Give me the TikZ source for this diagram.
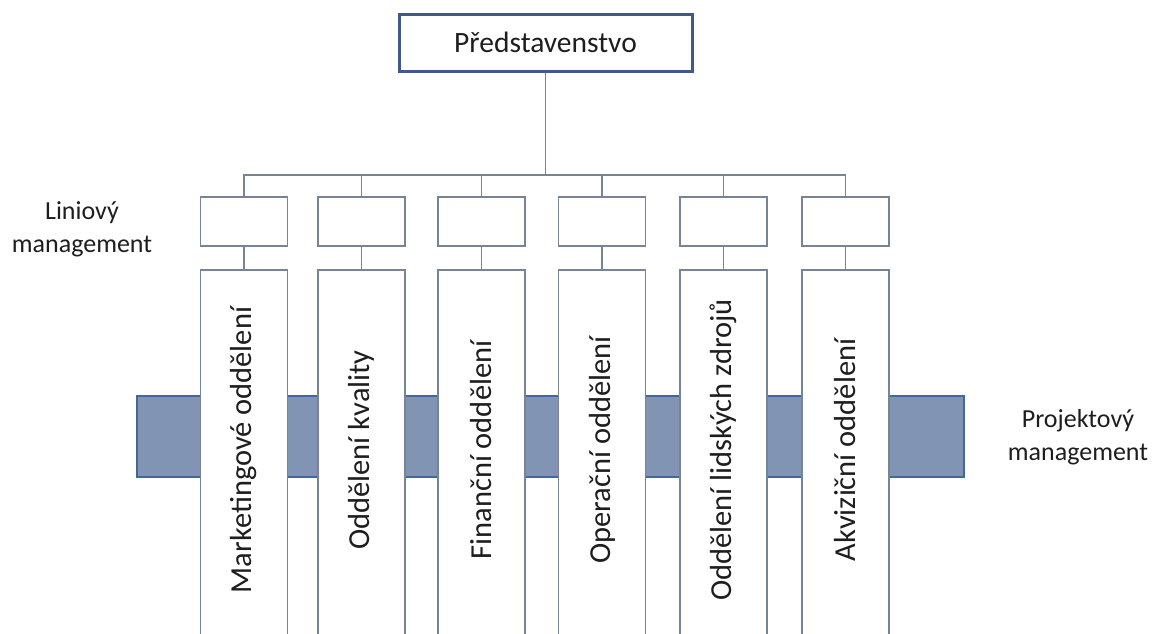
\documentclass[tikz,border=0pt]{standalone}
\usepackage{fontspec}
\setmainfont{Carlito}
\definecolor{boxline}{RGB}{118,132,150}
\definecolor{topline}{RGB}{65,88,140}
\definecolor{barfill}{RGB}{130,148,180}
\definecolor{barline}{RGB}{70,102,152}
\definecolor{txt}{RGB}{30,30,30}
\tikzset{
  x=1pt, y=-1pt,
  topbox/.style={draw=topline, line width=3pt, fill=white, minimum width=293pt, minimum height=57pt, inner sep=0pt, font=\fontsize{29.5}{32}\selectfont, text=txt},
  linebox/.style={draw=boxline, line width=1.6pt, fill=white, minimum width=87pt, minimum height=49pt, inner sep=0pt},
  colbox/.style={draw=boxline, line width=1.6pt, fill=white, minimum width=87pt, minimum height=380pt, inner sep=0pt},
  coltext/.style={rotate=90, font=\fontsize{30.5}{33}\selectfont, text=txt, inner sep=0pt},
  sidetext/.style={align=center, font=\fontsize{26}{33}\selectfont, text=txt, inner sep=0pt},
  wire/.style={draw=boxline, line width=1.6pt},
  bar/.style={draw=barline, line width=2.5pt, fill=barfill}
}
\begin{document}
\begin{tikzpicture}
\useasboundingbox (0,0) rectangle (1163,633);
\clip (0,0) rectangle (1163,633);
\fill[white] (0,0) rectangle (1163,633);

% project management bar, behind the department columns
\draw[bar] (137,396) rectangle (964,477);

% board
\node[topbox] (top) at (545.5,42.5) {Představenstvo};
\coordinate (bus) at (545.5,175);

% line management boxes
\node[linebox] (s1) at (244,221.5) {};
\node[linebox] (s2) at (361.5,221.5) {};
\node[linebox] (s3) at (481.5,221.5) {};
\node[linebox] (s4) at (602,221.5) {};
\node[linebox] (s5) at (723.5,221.5) {};
\node[linebox] (s6) at (845.5,221.5) {};

% department columns
\node[colbox] (c1) at (244,460) {};
\node[colbox] (c2) at (361.5,460) {};
\node[colbox] (c3) at (481.5,460) {};
\node[colbox] (c4) at (602,460) {};
\node[colbox] (c5) at (723.5,460) {};
\node[colbox] (c6) at (845.5,460) {};

\node[coltext] (t1) at (244,450) {Marketingové oddělení};
\node[coltext] (t2) at (361.5,450) {Oddělení kvality};
\node[coltext] (t3) at (481.5,450) {Finanční oddělení};
\node[coltext] (t4) at (602,450) {Operační oddělení};
\node[coltext] (t5) at (723.5,450) {Oddělení lidských zdrojů};
\node[coltext] (t6) at (845.5,450) {Akviziční oddělení};

% connectors
\draw[wire] (top.south) -- (bus);
\draw[wire] (s1.north) -- (s1.north |- bus) -- (s6.north |- bus) -- (s6.north);
\foreach \i in {2,3,4,5} {
  \draw[wire] (s\i.north) -- (s\i.north |- bus);
}
\foreach \i in {1,...,6} {
  \draw[wire] (s\i.south) -- (c\i.north);
}

% side labels
\node[sidetext] (lin) at (82,229) {Liniový\\management};
\node[sidetext] (proj) at (1078,437) {Projektový\\management};
\end{tikzpicture}
\end{document}
